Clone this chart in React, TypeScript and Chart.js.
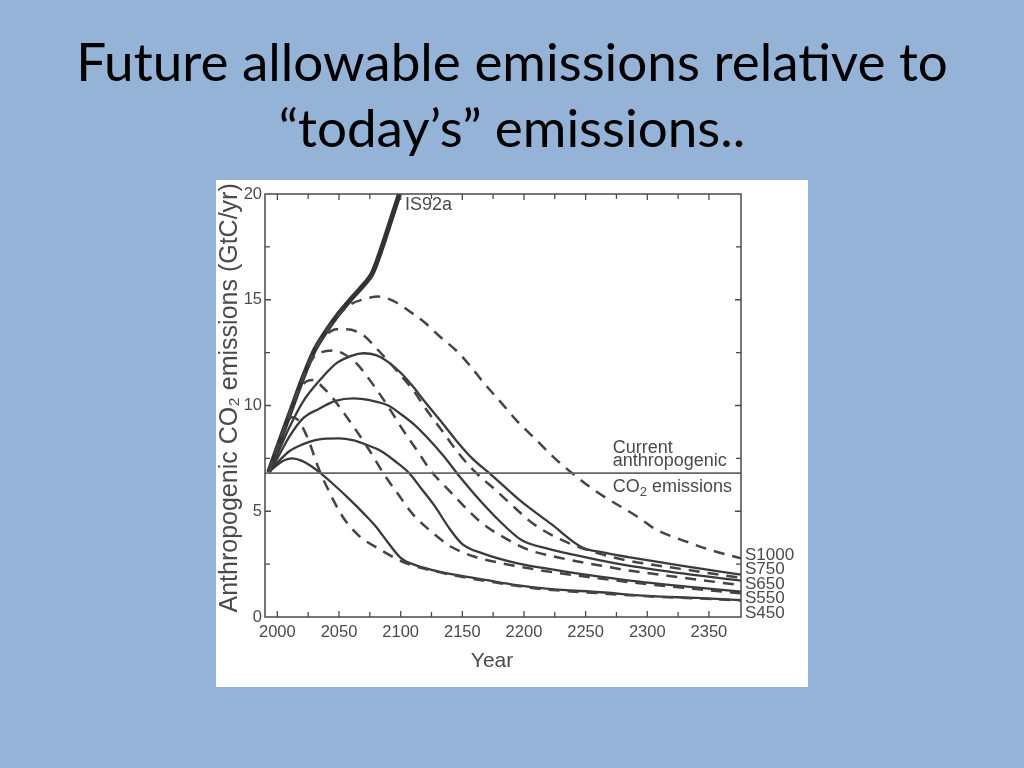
import React, { useEffect, useRef } from 'react';
import { Chart, registerables } from 'chart.js';

Chart.register(...registerables);

// ---------- text ----------
const slideTitle = ['Future allowable emissions relative to', '\u201Ctoday\u2019s\u201D emissions..'];
const yAxisTitle = 'Anthropogenic CO\u2082 emissions (GtC/yr)';
const xAxisTitle = 'Year';
const is92aLabel = 'IS92a';
const currentNote = ['Current', 'anthropogenic'];
const currentNoteLast = ['CO', '2', ' emissions'];
const curveLabels = ['S1000', 'S750', 'S650', 'S550', 'S450'];
// baselines of the stacked right-hand labels, in GtC/yr units
const curveLabelAnchors = [2.7, 2.02, 1.31, 0.68, -0.06];

// ---------- axes ----------
const xRange = [1990, 2376];
const yRange = [0, 20];
const xTickStep = 25;
const xLabelEvery = 50;
const yTickStep = 2.5;
const yLabelEvery = 5;

// ---------- data ----------
const currentYears = [1990, 2376];
const currentValues = [6.8, 6.8];

const is92aYears = [1993, 2000, 2010, 2020, 2030, 2040, 2050, 2060, 2070, 2077, 2085, 2092, 2099];
const is92aValues = [6.85, 8.0, 9.6, 11.2, 12.6, 13.55, 14.36, 15.05, 15.7, 16.25, 17.5, 18.75, 20.0];

const s450Years = [1993, 2000, 2006, 2012, 2020, 2027, 2034, 2045, 2058, 2070, 2080, 2090, 2100, 2112, 2126, 2145, 2170, 2194, 2220, 2262, 2300, 2340, 2376];
const s450Values = [6.85, 7.2, 7.42, 7.5, 7.38, 7.15, 6.85, 6.3, 5.6, 4.9, 4.27, 3.5, 2.8, 2.45, 2.22, 1.99, 1.74, 1.51, 1.33, 1.17, 1.0, 0.9, 0.8];

const s550Years = [1993, 2000, 2010, 2020, 2030, 2040, 2050, 2062, 2072, 2084, 2097, 2107, 2117, 2127, 2140, 2150, 2167, 2194, 2220, 2250, 2286, 2330, 2376];
const s550Values = [6.85, 7.3, 7.85, 8.15, 8.35, 8.43, 8.45, 8.35, 8.15, 7.85, 7.3, 6.8, 6.05, 5.3, 4.15, 3.45, 3.0, 2.55, 2.27, 2.0, 1.72, 1.45, 1.2];

const s650Years = [1993, 2000, 2010, 2021, 2034, 2047, 2062, 2075, 2090, 2100, 2111, 2121, 2135, 2148, 2164, 2180, 2198, 2220, 2240, 2262, 2286, 2330, 2376];
const s650Values = [6.85, 7.5, 8.55, 9.4, 9.85, 10.22, 10.34, 10.25, 10.0, 9.6, 9.1, 8.52, 7.6, 6.63, 5.53, 4.55, 3.64, 3.22, 2.95, 2.68, 2.42, 2.05, 1.72];

const s750Years = [1993, 2000, 2010, 2021, 2037, 2048, 2060, 2070, 2080, 2090, 2100, 2110, 2120, 2132, 2145, 2158, 2174, 2197, 2222, 2247, 2264, 2286, 2330, 2376];
const s750Values = [6.85, 7.7, 9.0, 10.2, 11.36, 12.0, 12.35, 12.47, 12.38, 12.05, 11.55, 10.9, 10.15, 9.3, 8.35, 7.5, 6.7, 5.5, 4.4, 3.3, 3.05, 2.82, 2.4, 2.0];

const wre450Years = [1993, 2000, 2006, 2012, 2017, 2025, 2033, 2041, 2053, 2066, 2083, 2102, 2118, 2145, 2175, 2210, 2262, 2300, 2340, 2376];
const wre450Values = [6.85, 8.0, 8.95, 9.45, 9.3, 8.4, 7.1, 6.05, 4.74, 3.85, 3.2, 2.6, 2.3, 1.95, 1.65, 1.35, 1.12, 0.98, 0.88, 0.78];

const wre550Years = [1993, 2000, 2010, 2018, 2024, 2030, 2037, 2045, 2052, 2063, 2075, 2086, 2098, 2110, 2125, 2141, 2160, 2182, 2204, 2223, 2260, 2300, 2340, 2376];
const wre550Values = [6.85, 8.0, 9.6, 10.75, 11.15, 11.2, 10.85, 10.35, 9.8, 8.9, 7.85, 6.8, 5.8, 4.85, 4.03, 3.32, 2.85, 2.54, 2.3, 2.12, 1.83, 1.55, 1.32, 1.12];

const wre650Years = [1993, 2000, 2010, 2020, 2029, 2036, 2045, 2055, 2064, 2075, 2090, 2101, 2113, 2124, 2139, 2153, 2166, 2185, 2204, 2225, 2245, 2267, 2283, 2330, 2376];
const wre650Values = [6.85, 8.0, 9.6, 11.2, 12.25, 12.52, 12.6, 12.4, 12.0, 11.2, 9.94, 8.92, 7.9, 6.95, 6.0, 5.14, 4.43, 3.72, 3.17, 2.85, 2.61, 2.38, 2.22, 1.85, 1.5];

const wre750Years = [1993, 2000, 2010, 2020, 2030, 2040, 2048, 2056, 2069, 2082, 2096, 2110, 2123, 2135, 2147, 2160, 2177, 2193, 2207, 2225, 2245, 2264, 2283, 2330, 2376];
const wre750Values = [6.85, 8.0, 9.6, 11.2, 12.55, 13.35, 13.6, 13.6, 13.35, 12.6, 11.7, 10.73, 9.63, 8.69, 7.74, 6.88, 6.0, 5.14, 4.43, 3.8, 3.3, 2.95, 2.68, 2.25, 1.85];

const wre1000Years = [1993, 2000, 2010, 2020, 2030, 2040, 2050, 2060, 2070, 2082, 2094, 2106, 2120, 2132, 2145, 2156, 2167, 2182, 2195, 2210, 2225, 2241, 2259, 2292, 2308, 2332, 2351, 2376];
const wre1000Values = [6.85, 8.0, 9.6, 11.2, 12.6, 13.55, 14.3, 14.8, 15.02, 15.15, 14.95, 14.5, 13.9, 13.25, 12.6, 11.9, 11.1, 10.1, 9.23, 8.37, 7.5, 6.71, 5.92, 4.74, 4.11, 3.56, 3.17, 2.78];

// ---------- styles ----------
const FIG_FONT = '"Liberation Sans", Arial, Helvetica, sans-serif';
const LINE_COLOR = '#3a3a3a';
const AXIS_COLOR = '#4a4a4a';
const TEXT_COLOR = '#4a4a4a';

const zip = (xs: number[], ys: number[]) => xs.map((x, i) => ({ x, y: ys[i] }));

const solid = (label: string, xs: number[], ys: number[], width = 2.3) => ({
  label,
  data: zip(xs, ys),
  borderColor: LINE_COLOR,
  borderWidth: width,
  pointRadius: 0,
  fill: false,
  cubicInterpolationMode: 'monotone' as const,
  borderCapStyle: 'butt' as const,
});

const dashed = (label: string, xs: number[], ys: number[]) => ({
  ...solid(label, xs, ys, 2.5),
  borderColor: '#444444',
  borderDash: [11, 8],
});

const figurePlugin = {
  id: 'figureDecor',
  afterDatasetsDraw(chart: any) {
    const { ctx, chartArea: a, scales } = chart;
    const x = scales.x;
    const y = scales.y;
    ctx.save();
    // frame
    ctx.strokeStyle = AXIS_COLOR;
    ctx.lineWidth = 1.5;
    ctx.strokeRect(a.left, a.top, a.right - a.left, a.bottom - a.top);
    // inward ticks on all four sides
    ctx.lineWidth = 1.3;
    ctx.beginPath();
    x.ticks.forEach((t: any) => {
      const px = x.getPixelForValue(t.value);
      if (px - a.left < 2 || a.right - px < 2) return;
      const len = t.value % xLabelEvery === 0 ? 6 : 5;
      ctx.moveTo(px, a.bottom);
      ctx.lineTo(px, a.bottom - len);
      ctx.moveTo(px, a.top);
      ctx.lineTo(px, a.top + len);
    });
    y.ticks.forEach((t: any) => {
      const py = y.getPixelForValue(t.value);
      if (py - a.top < 2 || a.bottom - py < 2) return;
      const len = t.value % yLabelEvery === 0 ? 6 : 5;
      ctx.moveTo(a.left, py);
      ctx.lineTo(a.left + len, py);
      ctx.moveTo(a.right, py);
      ctx.lineTo(a.right - len, py);
    });
    ctx.stroke();

    // annotations
    ctx.fillStyle = TEXT_COLOR;
    ctx.textBaseline = 'alphabetic';
    ctx.textAlign = 'left';
    ctx.font = `18px ${FIG_FONT}`;
    ctx.fillText(is92aLabel, x.getPixelForValue(2103.5), y.getPixelForValue(19.24));

    const nx = x.getPixelForValue(2272);
    ctx.fillText(currentNote[0], nx, y.getPixelForValue(7.77));
    ctx.fillText(currentNote[1], nx, y.getPixelForValue(7.14));
    const by = y.getPixelForValue(5.92);
    let cx = nx;
    ctx.fillText(currentNoteLast[0], cx, by);
    cx += ctx.measureText(currentNoteLast[0]).width;
    ctx.font = `13px ${FIG_FONT}`;
    ctx.fillText(currentNoteLast[1], cx, by + 4);
    cx += ctx.measureText(currentNoteLast[1]).width;
    ctx.font = `18px ${FIG_FONT}`;
    ctx.fillText(currentNoteLast[2], cx, by);

    ctx.font = `17px ${FIG_FONT}`;
    curveLabels.forEach((lab, i) => {
      ctx.fillText(lab, a.right + 4, y.getPixelForValue(curveLabelAnchors[i]));
    });

    // x-axis title
    ctx.font = `21px ${FIG_FONT}`;
    ctx.textAlign = 'center';
    ctx.fillText(xAxisTitle, a.left + (a.right - a.left) * 0.477, a.bottom + 50);

    // y-axis title (rotated)
    ctx.save();
    ctx.translate(14.5, a.top + (a.bottom - a.top) * 0.482);
    ctx.rotate(-Math.PI / 2);
    ctx.font = `25px ${FIG_FONT}`;
    ctx.textAlign = 'center';
    ctx.textBaseline = 'middle';
    ctx.fillText(yAxisTitle, 0, 0);
    ctx.restore();

    ctx.restore();
  },
};

export default function App() {
  const canvasRef = useRef<HTMLCanvasElement | null>(null);

  useEffect(() => {
    const canvas = canvasRef.current;
    if (!canvas) return;
    const chart = new Chart(canvas, {
      type: 'line',
      data: {
        datasets: [
          { ...solid('current', currentYears, currentValues, 1.8), borderColor: '#666666', cubicInterpolationMode: 'default' as const },
          dashed('WRE1000', wre1000Years, wre1000Values),
          dashed('WRE750', wre750Years, wre750Values),
          dashed('WRE650', wre650Years, wre650Values),
          dashed('WRE550', wre550Years, wre550Values),
          dashed('WRE450', wre450Years, wre450Values),
          solid('S750', s750Years, s750Values),
          solid('S650', s650Years, s650Values),
          solid('S550', s550Years, s550Values),
          solid('S450', s450Years, s450Values),
          { ...solid('IS92a', is92aYears, is92aValues, 5), borderColor: '#333333' },
        ] as any,
      },
      options: {
        animation: false,
        responsive: false,
        devicePixelRatio: 1,
        events: [],
        layout: { padding: { top: 14, right: 67, left: 0, bottom: 0 } },
        plugins: { legend: { display: false }, tooltip: { enabled: false }, title: { display: false } },
        scales: {
          x: {
            type: 'linear',
            min: xRange[0],
            max: xRange[1],
            grid: { display: false, drawTicks: false },
            border: { display: false },
            afterFit: (s: any) => { s.height = 70; },
            ticks: {
              stepSize: xTickStep,
              includeBounds: false,
              autoSkip: false,
              maxRotation: 0,
              padding: 6,
              color: TEXT_COLOR,
              font: { family: FIG_FONT, size: 16.5 },
              callback: (v: any) => (Number(v) % xLabelEvery === 0 ? String(v) : ''),
            },
          },
          y: {
            type: 'linear',
            min: yRange[0],
            max: yRange[1],
            grid: { display: false, drawTicks: false },
            border: { display: false },
            afterFit: (s: any) => { s.width = 49; },
            title: { display: false },
            ticks: {
              stepSize: yTickStep,
              autoSkip: false,
              padding: 3,
              color: TEXT_COLOR,
              font: { family: FIG_FONT, size: 16.5 },
              callback: (v: any) => (Number(v) % yLabelEvery === 0 ? String(v) : ''),
            },
          },
        },
      } as any,
      plugins: [figurePlugin],
    });
    return () => chart.destroy();
  }, []);

  return (
    <div
      style={{
        position: 'fixed',
        left: 0,
        top: 0,
        width: 1024,
        height: 768,
        background: '#95b3d7',
        overflow: 'hidden',
      }}
    >
      <div
        style={{
          position: 'absolute',
          left: 0,
          top: 28,
          width: 1024,
          textAlign: 'center',
          fontFamily: 'Lato, "Open Sans", sans-serif',
          fontSize: 53,
          lineHeight: '66px',
          color: '#000',
          whiteSpace: 'nowrap',
        }}
      >
        {slideTitle[0]}
        <br />
        {slideTitle[1]}
      </div>
      <div style={{ position: 'absolute', left: 216, top: 180, width: 592, height: 507, background: '#ffffff' }}>
        <canvas ref={canvasRef} width={592} height={507} style={{ display: 'block' }} />
      </div>
    </div>
  );
}
